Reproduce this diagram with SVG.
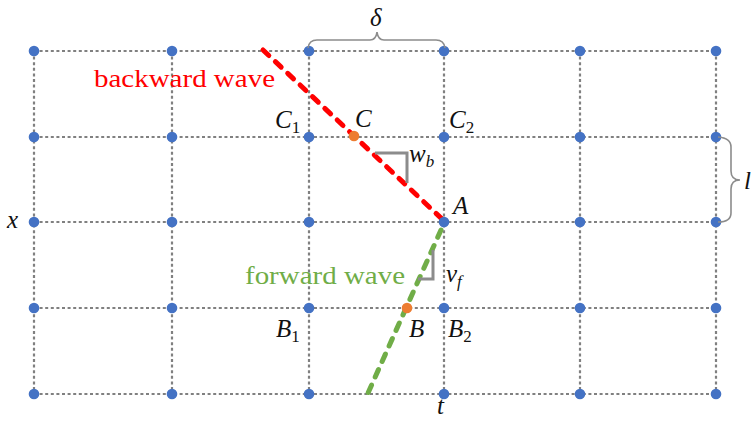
<svg xmlns="http://www.w3.org/2000/svg" width="754" height="425" viewBox="0 0 754 425">
<style>
.grid{stroke:#808080;stroke-width:2.2;stroke-dasharray:3 2.6;fill:none}
.dot{fill:#4472C4}
.odot{fill:#ED7D31}
.brace{stroke:#8c8c8c;stroke-width:1.6;fill:none}
.m{font-family:"Liberation Serif","DejaVu Serif",serif;font-style:italic;font-size:25px;fill:#111}
.s{font-style:normal;font-size:17px}
.si{font-size:17px}
.lbl{font-family:"Liberation Serif","DejaVu Serif",serif;font-size:26px}
</style>
<rect width="754" height="425" fill="#fff"/>
<g id="grid">
<path class="grid" d="M34 51H716M34 137H716M34 222H716M34 308H716M34 394H716M34 51V394M172 51V394M309 51V394M444 51V394M580 51V394M716 51V394"/>
</g>
<g id="nodes">
<g class="dot">
<circle cx="34" cy="51" r="5.3"/><circle cx="172" cy="51" r="5.3"/><circle cx="309" cy="51" r="5.3"/><circle cx="444" cy="51" r="5.3"/><circle cx="580" cy="51" r="5.3"/><circle cx="716" cy="51" r="5.3"/>
<circle cx="34" cy="137" r="5.3"/><circle cx="172" cy="137" r="5.3"/><circle cx="309" cy="137" r="5.3"/><circle cx="444" cy="137" r="5.3"/><circle cx="580" cy="137" r="5.3"/><circle cx="716" cy="137" r="5.3"/>
<circle cx="34" cy="222" r="5.3"/><circle cx="172" cy="222" r="5.3"/><circle cx="309" cy="222" r="5.3"/><circle cx="580" cy="222" r="5.3"/><circle cx="716" cy="222" r="5.3"/>
<circle cx="34" cy="308" r="5.3"/><circle cx="172" cy="308" r="5.3"/><circle cx="309" cy="308" r="5.3"/><circle cx="444" cy="308" r="5.3"/><circle cx="580" cy="308" r="5.3"/><circle cx="716" cy="308" r="5.3"/>
<circle cx="34" cy="394" r="5.3"/><circle cx="172" cy="394" r="5.3"/><circle cx="309" cy="394" r="5.3"/><circle cx="444" cy="394" r="5.3"/><circle cx="580" cy="394" r="5.3"/><circle cx="716" cy="394" r="5.3"/>
</g>
</g>
<g id="connectors">
<line x1="263" y1="50" x2="442" y2="219" stroke="#FF0000" stroke-width="5" stroke-linecap="round" stroke-dasharray="8 9"/>
<line x1="441" y1="230" x2="368" y2="393" stroke="#70AD47" stroke-width="5" stroke-linecap="round" stroke-dasharray="8 9"/>
<path d="M375 153H407V183" stroke="#8c8c8c" stroke-width="3" fill="none"/>
<path d="M433 250V279H418" stroke="#8c8c8c" stroke-width="3" fill="none"/>
<path class="brace" d="M308 48Q309 40 317 40H370Q376 40 377 32Q378 40 384 40H436Q444 40 445 48"/>
<path class="brace" d="M718 137Q731 138 731 147V171Q731 180 740 180Q731 180 731 189V213Q731 222 718 222"/>
</g>
<g id="A"><circle class="dot" cx="444" cy="222" r="5.3"/><text class="m" x="453" y="214">A</text></g>
<g id="C"><circle class="odot" cx="354" cy="136" r="5.3"/><text class="m" x="355" y="127">C</text></g>
<g id="B"><circle class="odot" cx="407" cy="308" r="5.3"/><text class="m" x="409" y="337">B</text></g>
<g id="labels">
<text class="m" x="275" y="128">C<tspan class="s" dy="5">1</tspan></text>
<text class="m" x="449" y="128">C<tspan class="s" dy="5">2</tspan></text>
<text class="m" x="409" y="162">w<tspan class="si" dy="5">b</tspan></text>
<text class="m" x="446" y="282">v<tspan class="si" dy="5">f</tspan></text>
<text class="m" x="276" y="337">B<tspan class="s" dy="5">1</tspan></text>
<text class="m" x="448" y="337">B<tspan class="s" dy="5">2</tspan></text>
<text class="m" x="437" y="414">t</text>
<text class="m" x="7" y="228">x</text>
<text class="m" x="370" y="26">δ</text>
<text class="m" x="744" y="189">l</text>
<text class="lbl" x="94" y="87" fill="#FF0000" textLength="181" lengthAdjust="spacingAndGlyphs">backward wave</text>
<text class="lbl" x="245" y="284" fill="#70AD47" textLength="160" lengthAdjust="spacingAndGlyphs">forward wave</text>
</g>
</svg>
